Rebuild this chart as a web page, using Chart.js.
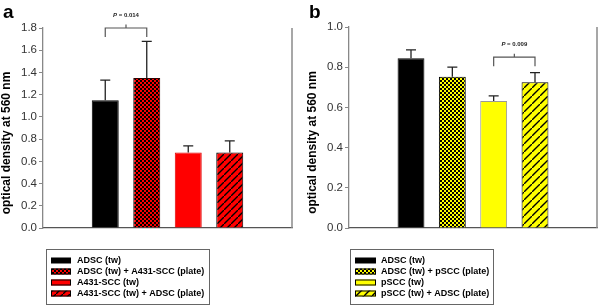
<!DOCTYPE html>
<html>
<head>
<meta charset="utf-8">
<script src="https://cdn.jsdelivr.net/npm/chart.js@4"></script>
<style>
  html, body { margin: 0; padding: 0; background: #fff; }
  #wrap { position: relative; width: 600px; height: 307px; overflow: hidden; }
  canvas { position: absolute; top: 0; }
</style>
</head>
<body>
<div id="wrap">
  <canvas id="cA" width="300" height="307" style="left:0px"></canvas>
  <canvas id="cB" width="300" height="307" style="left:300px"></canvas>
</div>
<script>
// ---------- data ----------
const categoriesA = ['ADSC (tw)', 'ADSC (tw) + A431-SCC (plate)', 'A431-SCC (tw)', 'A431-SCC (tw) + ADSC (plate)'];
const valuesA = [1.15, 1.35, 0.68, 0.68];
const errorsA = [0.18, 0.33, 0.06, 0.105];
const yMaxA = 1.8, yStepA = 0.2;
const pLabelA = '0.014';
const pPairA = [0, 1];
const pLevelA = 1.8;

const categoriesB = ['ADSC (tw)', 'ADSC (tw) + pSCC (plate)', 'pSCC (tw)', 'pSCC (tw) + ADSC (plate)'];
const valuesB = [0.845, 0.753, 0.632, 0.725];
const errorsB = [0.041, 0.047, 0.025, 0.048];
const yMaxB = 1.0, yStepB = 0.2;
const pLabelB = '0.009';
const pPairB = [2, 3];
const pLevelB = 0.85;

const yTitle = 'optical density at 560 nm';
const FONT = "'Liberation Sans', Arial, sans-serif";

// ---------- patterns ----------
function solid(c) { return c; }
function checker(color) {
  const c = document.createElement('canvas'); c.width = 4; c.height = 4;
  const x = c.getContext('2d');
  x.fillStyle = color; x.fillRect(0, 0, 4, 4);
  x.fillStyle = '#000'; x.fillRect(0, 0, 2, 2); x.fillRect(2, 2, 2, 2);
  return x.createPattern(c, 'repeat');
}
function hatch(color, s) {
  const c = document.createElement('canvas'); c.width = s; c.height = s;
  const x = c.getContext('2d');
  x.fillStyle = color; x.fillRect(0, 0, s, s);
  x.strokeStyle = '#000'; x.lineWidth = 1.4;
  x.beginPath();
  x.moveTo(-1, s + 1); x.lineTo(s + 1, -1);
  x.moveTo(-2, 1); x.lineTo(1, -2);
  x.moveTo(s - 1, s + 2); x.lineTo(s + 2, s - 1);
  x.stroke();
  return x.createPattern(c, 'repeat');
}

const fillsA = [solid('#000'), checker('#ff0000'), solid('#ff0000'), hatch('#ff0000', 7)];
const bordersA = ['#000', '#300', '#e00000', '#000'];
const fillsB = [solid('#000'), checker('#ffff00'), solid('#ffff00'), hatch('#ffff00', 8)];
const bordersB = ['#000', '#000', '#999', '#000'];

// ---------- plugin ----------
const decor = {
  id: 'decor',
  afterDatasetsDraw(chart) {
    const o = chart.options.plugins.decor;
    const ctx = chart.ctx;
    const ya = chart.scales.y, xa = chart.scales.x;
    const ca = chart.chartArea;
    const meta = chart.getDatasetMeta(0);
    ctx.save();
    // right frame line
    ctx.strokeStyle = '#8a8a8a'; ctx.lineWidth = 1.5;
    ctx.beginPath(); ctx.moveTo(ca.right, ca.top); ctx.lineTo(ca.right, ca.bottom); ctx.stroke();
    // error bars
    ctx.strokeStyle = '#222'; ctx.lineWidth = 1.3;
    o.values.forEach((v, i) => {
      const el = meta.data[i + 1];
      const yTop = ya.getPixelForValue(v + o.errors[i]);
      ctx.beginPath();
      ctx.moveTo(el.x, el.y); ctx.lineTo(el.x, yTop);
      ctx.moveTo(el.x - 5, yTop); ctx.lineTo(el.x + 5, yTop);
      ctx.stroke();
    });
    // bracket
    const x1 = xa.getPixelForValue(o.pair[0] + 1), x2 = xa.getPixelForValue(o.pair[1] + 1);
    const yl = ya.getPixelForValue(o.level);
    ctx.strokeStyle = '#555'; ctx.lineWidth = 1.2;
    ctx.beginPath();
    ctx.moveTo(x1, yl + 9); ctx.lineTo(x1, yl); ctx.lineTo(x2, yl); ctx.lineTo(x2, yl + 9);
    const xm = (x1 + x2) / 2;
    ctx.moveTo(xm, yl); ctx.lineTo(xm, yl - 3.5);
    ctx.stroke();
    ctx.fillStyle = '#222';
    ctx.textBaseline = 'alphabetic';
    ctx.font = 'italic bold 6px ' + FONT;
    const wP = ctx.measureText('P').width;
    ctx.font = 'bold 6px ' + FONT;
    const rest = ' = ' + o.pLabel;
    const wR = ctx.measureText(rest).width;
    const tx = xm - (wP + wR) / 2, ty = yl - 11;
    ctx.font = 'italic bold 6px ' + FONT; ctx.fillText('P', tx, ty);
    ctx.font = 'bold 6px ' + FONT; ctx.fillText(rest, tx + wP, ty);
    // panel letter
    ctx.fillStyle = '#000';
    ctx.font = 'bold 19px ' + FONT;
    ctx.fillText(o.letter, o.letterX, 18);
    // y title
    ctx.save();
    ctx.translate(o.titleX, (ca.top + ca.bottom) / 2 + 15);
    ctx.rotate(-Math.PI / 2);
    ctx.font = 'bold 12px ' + FONT;
    ctx.textAlign = 'center'; ctx.textBaseline = 'middle';
    ctx.fillText(yTitle, 0, 0);
    ctx.restore();
    // legend
    const lb = o.legendBox;
    ctx.strokeStyle = '#666'; ctx.lineWidth = 1;
    ctx.strokeRect(lb.x + 0.5, lb.y + 0.5, lb.w, lb.h);
    ctx.font = 'bold 9px ' + FONT;
    ctx.textAlign = 'left'; ctx.textBaseline = 'middle';
    o.categories.forEach((c, i) => {
      const cy = lb.y + 11.5 + 11 * i;
      ctx.fillStyle = o.fills[i];
      ctx.fillRect(lb.x + 5, cy - 3, lb.sw, 6);
      if (i !== 0) {
        ctx.strokeStyle = '#000'; ctx.lineWidth = 1;
        ctx.strokeRect(lb.x + 5.5, cy - 2.5, lb.sw - 1, 5);
      }
      ctx.fillStyle = '#000';
      ctx.fillText(c, lb.x + 31, cy + 0.5);
    });
    ctx.restore();
  }
};

function makePanel(id, cfg) {
  const labels = [' ', ...cfg.categories, ' '];
  const data = [null, ...cfg.values, null];
  return new Chart(document.getElementById(id), {
    type: 'bar',
    data: {
      labels,
      datasets: [{
        data,
        backgroundColor: ['#fff', ...cfg.fills, '#fff'],
        borderColor: ['#000', ...cfg.borders, '#000'],
        borderWidth: 1,
        barPercentage: 0.65,
        categoryPercentage: 1.0
      }]
    },
    options: {
      responsive: false,
      animation: false,
      devicePixelRatio: 1,
      layout: { padding: { top: cfg.padTop, right: cfg.padRight, left: cfg.padLeft, bottom: 0 } },
      plugins: {
        legend: { display: false },
        tooltip: { enabled: false },
        decor: {
          values: cfg.values, errors: cfg.errors, categories: cfg.categories, fills: cfg.fills,
          pair: cfg.pair, level: cfg.level, pLabel: cfg.pLabel,
          letter: cfg.letter, letterX: cfg.letterX, titleX: cfg.titleX, legendBox: cfg.legendBox
        }
      },
      scales: {
        x: {
          type: 'category',
          grid: { display: false },
          border: { display: true, color: '#555', width: 1.3 },
          ticks: { display: false },
          afterFit(s) { s.height = 79; }
        },
        y: {
          min: 0, max: cfg.yMax,
          grid: { display: true, drawOnChartArea: false, drawTicks: true, tickLength: 4, color: '#888' },
          border: { display: true, color: '#888', width: 1.3 },
          ticks: {
            stepSize: cfg.yStep,
            color: '#333',
            padding: 2,
            font: { family: FONT, size: 11.5 },
            callback: v => v.toFixed(1)
          },
          afterFit(s) { s.width = 43; }
        }
      }
    },
    plugins: [decor]
  });
}

makePanel('cA', {
  categories: categoriesA, values: valuesA, errors: errorsA, fills: fillsA, borders: bordersA,
  yMax: yMaxA, yStep: yStepA, pair: pPairA, level: pLevelA, pLabel: pLabelA,
  letter: 'a', letterX: 3, titleX: 7,
  padTop: 28, padRight: 8, padLeft: 0,
  legendBox: { x: 46, y: 249, w: 163, h: 55, sw: 20 }
});
makePanel('cB', {
  categories: categoriesB, values: valuesB, errors: errorsB, fills: fillsB, borders: bordersB,
  yMax: yMaxB, yStep: yStepB, pair: pPairB, level: pLevelB, pLabel: pLabelB,
  letter: 'b', letterX: 9, titleX: 13,
  padTop: 27, padRight: 3, padLeft: 6,
  legendBox: { x: 50, y: 249, w: 143, h: 55, sw: 21 }
});
</script>
</body>
</html>
